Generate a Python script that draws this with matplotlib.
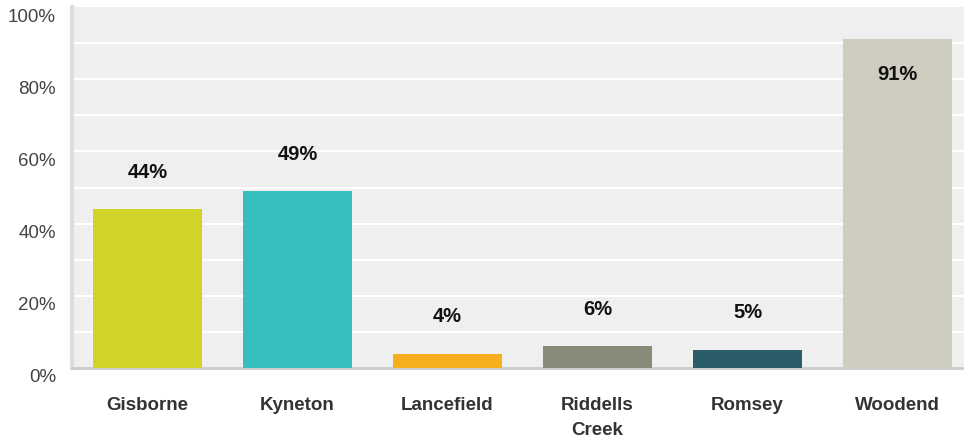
import matplotlib
matplotlib.use("Agg")
import matplotlib.pyplot as plt
import matplotlib.transforms as mtransforms

categories = ["Gisborne", "Kyneton", "Lancefield", "Riddells\nCreek", "Romsey", "Woodend"]
values = [44, 49, 4, 6, 5, 91]
colors = ["#D0D42A", "#34BEBE", "#F6B01F", "#8A8A78", "#2B5C6A", "#CFCDBF"]
yticks = [0, 20, 40, 60, 80, 100]
ytick_labels = ["0%", "20%", "40%", "60%", "80%", "100%"]

plt.rcParams['font.family'] = ['Liberation Sans', 'DejaVu Sans']

W, H = 964, 442
fig = plt.figure(figsize=(W / 100, H / 100), dpi=100)
ax = fig.add_axes([72 / W, 1 - 368 / H, (964 - 72) / W, (368 - 7) / H])
ax.set_facecolor("#EFEFEF")

x = list(range(len(categories)))
ax.bar(x, values, width=0.727, color=colors, zorder=3)
ax.set_xlim(-0.503, 5.443)
ax.set_ylim(0, 100)

for v in range(10, 100, 10):
    ax.axhline(v, color="white", lw=1.5, zorder=1)

for i, v in enumerate(values):
    dy = -35 if v > 80 else 37
    ax.annotate(f"{v}%", (i, v), xytext=(0, dy), textcoords="offset pixels",
                ha="center", va="center", fontsize=14.5, fontweight="bold",
                color="#111111", zorder=4)

ax.set_yticks(yticks)
ax.set_yticklabels([])
ax.tick_params(axis="y", length=0)
ylab_tr = mtransforms.blended_transform_factory(fig.transFigure, ax.transData) + \
    mtransforms.ScaledTranslation(0, -10 / 100, fig.dpi_scale_trans)
for t, lab in zip(yticks, ytick_labels):
    fig.text(56 / W, t, lab, transform=ylab_tr, ha="right", va="center",
             fontsize=13.5, color="#444444")

ax.set_xticks(x)
ax.set_xticklabels(categories, fontsize=13.5, fontweight="bold", color="#333333",
                   linespacing=1.58, va="top")
ax.tick_params(axis="x", length=0, pad=21)

for s in ["top", "right"]:
    ax.spines[s].set_visible(False)
ax.spines["left"].set_color("#DDDDDD")
ax.spines["left"].set_linewidth(3)
ax.spines["bottom"].set_color("#CCCCCC")
ax.spines["bottom"].set_linewidth(2)

fig.savefig("out.png", dpi=100)
